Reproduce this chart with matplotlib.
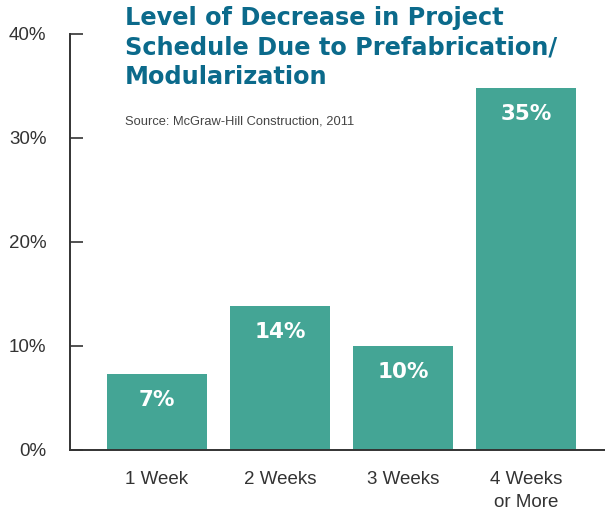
import matplotlib.pyplot as plt
import numpy as np

categories = ["1 Week", "2 Weeks", "3 Weeks", "4 Weeks\nor More"]
values = [7.3, 13.85, 10.0, 34.8]
labels = ["7%", "14%", "10%", "35%"]
yticks = [0, 10, 20, 30, 40]

bar_color = "#44a595"
title_color = "#0b6a8b"
text_color = "#333333"

fig = plt.figure(figsize=(6.05, 5.15), dpi=100)
ax = fig.add_axes([70 / 605, 1 - 450 / 515, 535 / 605, 416 / 515])

x = np.arange(len(categories))
ax.bar(x, values, width=0.813, color=bar_color, zorder=2)

for xi, v, lab in zip(x, values, labels):
    ax.text(xi, v - 2.5, lab, ha="center", va="center", color="white",
            fontsize=15.5, fontweight="bold", family="DejaVu Sans")

ax.set_xlim(-0.707, 3.64)
ax.set_ylim(0, 40)
ax.set_yticks(yticks)
ax.set_yticklabels([f"{t}%" for t in yticks])
ax.set_xticks(x)
ax.set_xticklabels(categories)

for s in ["top", "right"]:
    ax.spines[s].set_visible(False)
for s in ["left", "bottom"]:
    ax.spines[s].set_color(text_color)
    ax.spines[s].set_linewidth(1.4)

ax.tick_params(axis="y", direction="in", length=9, width=1.2, color=text_color,
               pad=17, labelsize=13.5, labelcolor=text_color)
ax.tick_params(axis="x", length=0, pad=15, labelsize=13.5, labelcolor=text_color)
for lab in ax.get_xticklabels() + ax.get_yticklabels():
    lab.set_family("Liberation Sans")
for lab in ax.get_xticklabels():
    lab.set_linespacing(1.45)

fig.text(125 / 605, 1 - 6 / 515,
         "Level of Decrease in Project\nSchedule Due to Prefabrication/\nModularization",
         ha="left", va="top", fontsize=17.3, fontweight="bold", color=title_color,
         family="DejaVu Sans", linespacing=1.3)
fig.text(125 / 605, 1 - 122 / 515, "Source: McGraw-Hill Construction, 2011",
         ha="left", va="center", fontsize=9.3, color="#444444", family="Liberation Sans")

fig.savefig("out.png", dpi=100)
